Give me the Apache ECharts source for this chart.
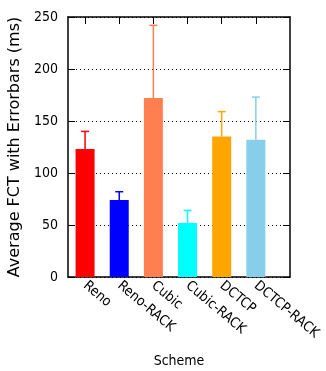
<!DOCTYPE html>
<html><head><meta charset="utf-8">
<script src="https://cdn.jsdelivr.net/npm/echarts@6/dist/echarts.min.js"></script>
<style>html,body{margin:0;padding:0;background:#fff}#c{width:326px;height:371px}</style>
</head><body><div id="c"></div>
<script>
const categories = ['Reno','Reno-RACK','Cubic','Cubic-RACK','DCTCP','DCTCP-RACK'];
const means = [123, 74, 172, 52, 135, 132];
const errTops = [140, 82, 242, 64, 159, 173];
const colors = ['#ff0000','#0000ff','#ff7f50','#00ffff','#ffa500','#87ceeb'];
const yTicks = [0, 50, 100, 150, 200, 250];
const positions = categories.map((c, i) => i);

const FONT = 'DejaVu Sans Condensed';
const chart = echarts.init(document.getElementById('c'), null, {renderer: 'canvas'});
const tickInside = {show: true, inside: true, length: 7, lineStyle: {color: '#000', width: 1}};
const line = {show: true, onZero: false, lineStyle: {color: '#000', width: 1.5}};
chart.setOption({
  animation: false,
  grid: {left: 68, top: 17, width: 222, height: 260, containLabel: false, outerBoundsMode: 'none'},
  xAxis: [{
    type: 'value', min: -0.5, max: 6,
    axisLine: line,
    axisTick: {show: true, inside: true, length: 7, customValues: positions, lineStyle: {color: '#000'}},
    axisLabel: {customValues: positions, rotate: -40, margin: 7, fontFamily: FONT, fontSize: 14, color: '#000',
      formatter: v => categories[Math.round(v)]},
    splitLine: {show: false},
    name: 'Scheme', nameLocation: 'middle', nameGap: 77,
    nameTextStyle: {fontFamily: FONT, fontSize: 14, color: '#000'}
  }, {
    type: 'value', min: -0.5, max: 6, position: 'top',
    axisLine: line,
    axisTick: {show: true, inside: true, length: 7, customValues: positions, lineStyle: {color: '#000'}},
    axisLabel: {show: false}, splitLine: {show: false}
  }],
  yAxis: [{
    type: 'value', min: 0, max: 250, interval: 50,
    axisLine: line,
    axisTick: tickInside,
    axisLabel: {fontFamily: FONT, fontSize: 14, color: '#000', margin: 10},
    splitLine: {show: true, lineStyle: {color: '#000', type: [1, 3], width: 1}},
    name: 'Average FCT with Errorbars (ms)', nameLocation: 'middle', nameGap: 42,
    nameTextStyle: {fontFamily: 'DejaVu Sans', fontSize: 16, color: '#000'}
  }, {
    type: 'value', min: 0, max: 250, interval: 50, position: 'right',
    axisLine: line,
    axisTick: tickInside, axisLabel: {show: false}, splitLine: {show: false}
  }],
  series: [{
    type: 'bar', barWidth: 19, xAxisIndex: 0, yAxisIndex: 0,
    data: means.map((m, i) => ({value: [positions[i], m], itemStyle: {color: colors[i]}})),
    z: 2
  }, {
    type: 'custom', xAxisIndex: 0, yAxisIndex: 0, z: 3,
    data: means.map((m, i) => [positions[i], m, errTops[i]]),
    renderItem: (params, api) => {
      const i = params.dataIndex;
      const p0 = api.coord([api.value(0), api.value(1)]);
      const p1 = api.coord([api.value(0), api.value(2)]);
      const c = colors[i];
      const st = {stroke: c, lineWidth: 1.5};
      return {type: 'group', children: [
        {type: 'line', shape: {x1: p0[0], y1: p0[1], x2: p1[0], y2: p1[1]}, style: st},
        {type: 'line', shape: {x1: p1[0] - 4, y1: p1[1], x2: p1[0] + 4, y2: p1[1]}, style: st}
      ]};
    }
  }]
});
</script></body></html>
